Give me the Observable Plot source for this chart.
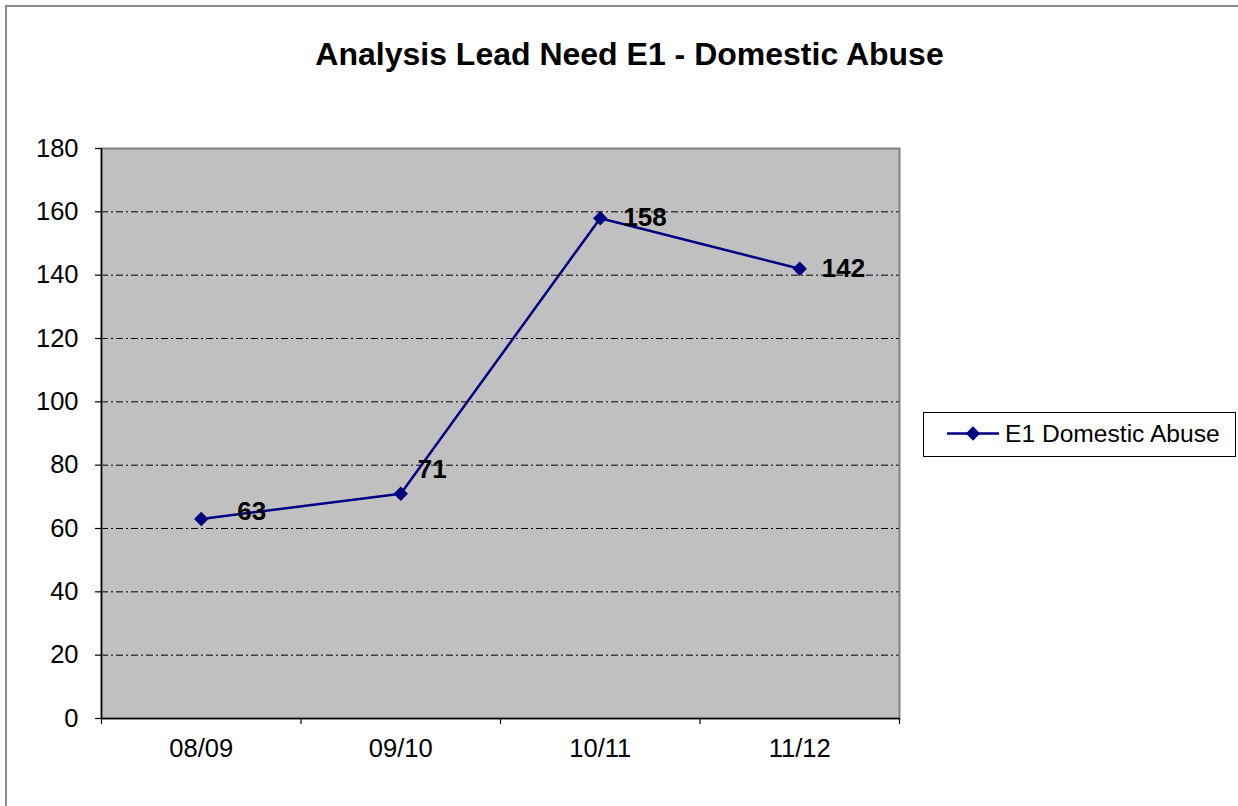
<!DOCTYPE html>
<html>
<head>
<meta charset="utf-8">
<script src="https://cdn.jsdelivr.net/npm/d3@7"></script>
<script src="https://cdn.jsdelivr.net/npm/@observablehq/plot@0.6"></script>
<style>
  html, body { margin: 0; padding: 0; background: #fff; }
  body { width: 1238px; height: 806px; position: relative; overflow: hidden; font-family: "Liberation Sans", Arial, sans-serif; }
  #frame { position: absolute; left: 5px; top: 5px; right: -10px; bottom: -10px; border-left: 2px solid #8a8a8a; border-top: 2px solid #8a8a8a; }
  #chart { position: absolute; left: 0; top: 0; }
  #title { position: absolute; left: 629.5px; top: 38px; transform: translateX(-50%); white-space: nowrap; font-size: 32px; line-height: 32px; font-weight: bold; color: #000; }
  #legend { position: absolute; left: 923px; top: 412px; }
</style>
</head>
<body>
<div id="frame"></div>
<div id="chart"></div>
<div id="title">Analysis Lead Need E1 - Domestic Abuse</div>
<div id="legend"></div>
<script>
const categories = ["08/09", "09/10", "10/11", "11/12"];
const values = [63, 71, 158, 142];
const seriesName = "E1 Domestic Abuse";
const yTicks = [0, 20, 40, 60, 80, 100, 120, 140, 160, 180];

const navy = "#000080";
const labelNudges = [[36, -7], [17, -24], [23, 0], [22, 0]];
const xPos = (d, i) => i + 0.5;

const plot = Plot.plot({
  width: 1238,
  height: 806,
  marginLeft: 101,
  marginRight: 339,
  marginTop: 148,
  marginBottom: 88,
  style: { fontSize: "25.5px", fontFamily: "'Liberation Sans', Arial, sans-serif", color: "#000", background: "transparent", overflow: "visible" },
  x: { type: "linear", domain: [0, categories.length] },
  y: { type: "linear", domain: [0, 180] },
  marks: [
    Plot.frame({ fill: "#c0c0c0", stroke: "none" }),
    Plot.ruleY(yTicks.filter(t => t > 0 && t < 180), { stroke: "#000", strokeWidth: 1, strokeDasharray: "7,3,2,3" }),
    Plot.frame({ stroke: "#808080", strokeWidth: 2 }),
    Plot.ruleX([0], { stroke: "#000", strokeWidth: 1.5 }),
    Plot.ruleY([0], { stroke: "#000", strokeWidth: 1.5 }),
    Plot.axisY(yTicks, { tickSize: 6, tickPadding: 17, label: null, strokeWidth: 1.2 }),
    Plot.axisX(d3.range(0, categories.length + 1), { tickSize: 6, tickFormat: () => "", label: null, strokeWidth: 1.2 }),
    Plot.axisX(categories.map((c, i) => i + 0.5), { tickSize: 0, tickPadding: 20, tickFormat: v => categories[Math.round(v - 0.5)], label: null }),
    Plot.line(values, { x: xPos, y: d => d, stroke: navy, strokeWidth: 2.5 }),
    Plot.dot(values, { x: xPos, y: d => d, symbol: "diamond2", r: 6.5, fill: navy, stroke: "none" }),
    ...values.map((v, i) => Plot.text([v], {
      x: () => i + 0.5, y: d => d, text: d => String(d),
      textAnchor: "start", fontWeight: "bold", fontSize: 26, fill: "#000",
      dx: labelNudges[i][0], dy: labelNudges[i][1]
    }))
  ]
});
document.getElementById("chart").appendChild(plot);

// Legend
const lg = d3.select("#legend").append("svg").attr("width", 314).attr("height", 46);
lg.append("rect").attr("x", 0.5).attr("y", 0.5).attr("width", 312).attr("height", 44).attr("fill", "#fff").attr("stroke", "#000").attr("stroke-width", 1);
lg.append("line").attr("x1", 24).attr("x2", 76).attr("y1", 21.5).attr("y2", 21.5).attr("stroke", navy).attr("stroke-width", 2.5);
lg.append("path").attr("d", d3.symbol(d3.symbolDiamond2, 130)()).attr("transform", "translate(50,21.5)").attr("fill", navy);
lg.append("text").attr("x", 82).attr("y", 29.5).attr("font-size", 24.6).attr("font-family", "'Liberation Sans', Arial, sans-serif").attr("fill", "#000").text(seriesName);
</script>
</body>
</html>
